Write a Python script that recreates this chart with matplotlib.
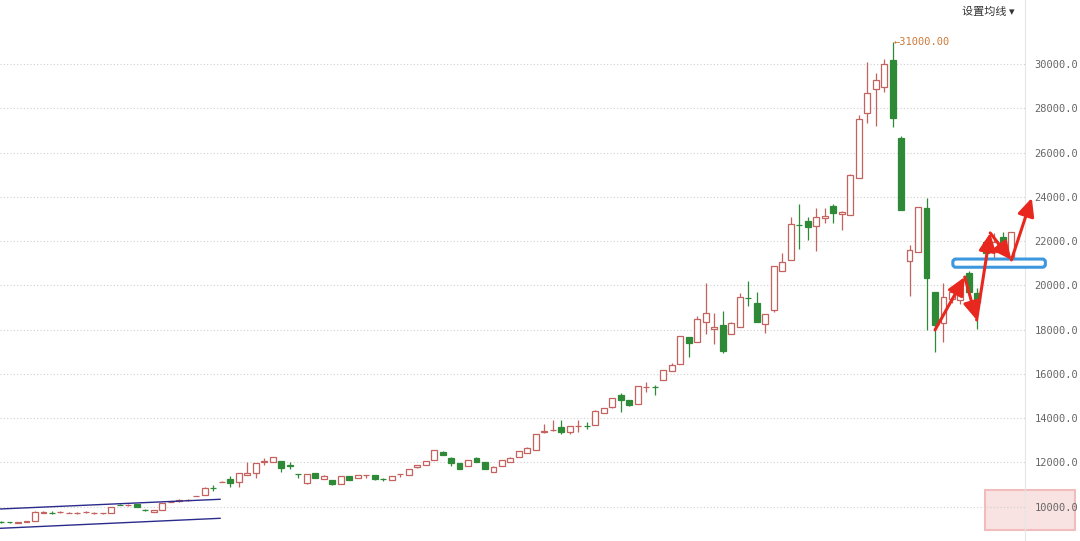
import matplotlib
matplotlib.use('Agg')
import matplotlib.pyplot as plt
from matplotlib.patches import FancyBboxPatch, Rectangle
from matplotlib.ticker import FuncFormatter
import numpy as np

# weekly candles
opens = [9310, 9300, 9270, 9320, 9370, 9740, 9740, 9745, 9725, 9725,
         9775, 9705, 9705, 9710, 10090, 10075, 10110, 9860, 9780, 9850,
         10225, 10275, 10295, 10480, 10530, 10870, 11120, 11260, 11130, 11440,
         11510, 12030, 12010, 12080, 11870, 11480, 11060, 11510, 11260, 11210,
         11020, 11400, 11290, 11425, 11430, 11245, 11210, 11465, 11430, 11780,
         11890, 12110, 12490, 12220, 11960, 11840, 12220, 12010, 11590, 11840,
         12040, 12260, 12440, 12560, 13395, 13465, 13590, 13370, 13645, 13655,
         13690, 14250, 14490, 15050, 14820, 14640, 15410, 15430, 15730, 16150,
         16440, 17650, 17460, 18360, 18010, 18190, 17800, 18140, 19450, 19190,
         18260, 18890, 20650, 21150, 22735, 22890, 22680, 23030, 23590, 23220,
         23180, 24840, 27800, 28860, 28980, 30180, 26670, 21100, 21520, 23480,
         19720, 18290, 19400, 19340, 20550, 19670, 21970, 21520, 22170, 21220]
highs = [9340, 9330, 9310, 9350, 9800, 9800, 9790, 9800, 9750, 9770,
         9820, 9750, 9740, 9990, 10110, 10120, 10120, 9920, 9870, 10190,
         10240, 10330, 10350, 10500, 10880, 10990, 11150, 11390, 11520, 12040,
         11970, 12200, 12240, 12090, 12000, 11480, 11480, 11530, 11420, 11220,
         11380, 11410, 11440, 11440, 11440, 11300, 11410, 11480, 11700, 11900,
         12090, 12570, 12500, 12230, 11970, 12120, 12260, 12020, 11820, 12120,
         12230, 12530, 12680, 13280, 13730, 13900, 13900, 13660, 13900, 13850,
         14350, 14460, 14910, 15150, 14830, 15450, 15650, 15500, 16190, 16510,
         17720, 17660, 18620, 20120, 18770, 18840, 18330, 19670, 20210, 19700,
         18720, 20890, 21480, 23080, 23680, 23080, 23480, 23480, 23680, 23340,
         25050, 27700, 30100, 29580, 30230, 31000, 26750, 21820, 23560, 23930,
         19720, 20090, 19900, 20170, 20650, 19870, 21990, 22350, 22430, 22430]
lows = [9270, 9280, 9250, 9310, 9360, 9700, 9690, 9700, 9710, 9690,
        9740, 9670, 9690, 9700, 10070, 10040, 9980, 9800, 9770, 9840,
        10210, 10230, 10250, 10470, 10520, 10700, 11110, 10910, 10910, 11420,
        11300, 11900, 12000, 11590, 11700, 11290, 11050, 11300, 11250, 11000,
        11010, 11200, 11280, 11300, 11230, 11150, 11200, 11350, 11420, 11770,
        11880, 12100, 12330, 11840, 11700, 11830, 12030, 11700, 11580, 11830,
        12030, 12250, 12430, 12550, 13320, 13420, 13300, 13290, 13400, 13500,
        13680, 14240, 14480, 14300, 14550, 14630, 15200, 15050, 15720, 16140,
        16430, 16780, 17440, 17800, 17350, 16930, 17790, 18130, 19070, 18360,
        17840, 18810, 20640, 21140, 21630, 22050, 21550, 22800, 22800, 22500,
        23170, 24830, 27320, 27200, 28750, 27170, 23410, 19520, 21510, 17990,
        17000, 17460, 19200, 19160, 19650, 18020, 21470, 21220, 21600, 21070]
closes = [9295, 9290, 9300, 9335, 9780, 9755, 9725, 9755, 9740, 9735,
          9785, 9715, 9715, 9980, 10075, 10090, 9985, 9845, 9850, 10180,
          10235, 10285, 10305, 10495, 10870, 10855, 11140, 11080, 11510, 11540,
          11960, 12050, 12230, 11770, 11855, 11465, 11470, 11320, 11400, 11020,
          11370, 11210, 11430, 11435, 11240, 11235, 11400, 11475, 11690, 11890,
          12080, 12560, 12340, 11960, 11700, 12110, 12040, 11710, 11810, 12110,
          12220, 12520, 12670, 13270, 13405, 13475, 13400, 13650, 13655, 13645,
          14340, 14450, 14900, 14820, 14600, 15440, 15430, 15410, 16180, 16400,
          17710, 17410, 18470, 18770, 18100, 17040, 18320, 19490, 19430, 18360,
          18710, 20880, 21040, 22760, 22725, 22650, 23100, 23150, 23260, 23330,
          24990, 27500, 28700, 29280, 30000, 27550, 23410, 21600, 23560, 20320,
          18210, 19490, 19700, 19870, 19720, 19270, 21480, 21970, 21600, 22430]

# hand drawn channel at the start (candle index, price)
chan_x = [-0.12, 25.8]
chan_upper = [9900, 10338]
chan_lower = [9027, 9479]

# red hand drawn arrows (candle index, price)
arrow_path = [(110.0, 17985), (113.5, 20380), (114.9, 18440),
              (116.5, 22370), (119.0, 21150), (121.4, 23950)]

# blue box: left index, low price, width in candles, height in price
box = (112.1, 20820, 10.9, 370)

yticks = list(range(10000, 30001, 2000))

UP = '#c4625f'
DOWN = '#2f8a38'

o = np.array(opens); h = np.array(highs); l = np.array(lows); c = np.array(closes)
x = np.arange(len(o))
up = c >= o
edge = np.where(up, UP, DOWN)
fill = np.where(up, 'white', DOWN)

fig = plt.figure(figsize=(10.8, 5.41), dpi=100)
fig.patch.set_facecolor('white')
ax = fig.add_axes([0, 0, 1025 / 1080, 1])
ax.patch.set_visible(False)

ax.vlines(x, l, h, colors=edge, lw=0.9, zorder=2)
ax.bar(x, np.abs(c - o), bottom=np.minimum(o, c), width=0.7,
       color=fill, edgecolor=edge, linewidth=0.9, zorder=3)

ax.plot(chan_x, chan_upper, color='#2b2b8c', lw=1.0, zorder=3)
ax.plot(chan_x, chan_lower, color='#2b2b8c', lw=1.0, zorder=3)

ax.set_xlim(-0.12, 120.6)
ax.set_ylim(8454, 32891)
ax.set_xticks([])
ax.set_yticks(yticks)
ax.yaxis.tick_right()
ax.yaxis.set_major_formatter(FuncFormatter(lambda v, p: f"{v:.1f}"))
ax.tick_params(axis='y', length=0, pad=7, labelsize=7.5, labelcolor='#666666')
for t in ax.get_yticklabels():
    t.set_family('DejaVu Sans Mono')
ax.grid(axis='y', color='#cfcfcf', linestyle=(0, (1, 2)), lw=0.8)
ax.set_axisbelow(True)
for s in ['top', 'left', 'bottom']:
    ax.spines[s].set_visible(False)
ax.spines['right'].set_color('#e6e6e6')

# max marker
imax = int(np.argmax(h))
ax.text(imax + 0.1, h[imax], f"\u2190{h[imax]:.2f}", color='#cc7a3a', fontsize=7.5,
        family='DejaVu Sans Mono', ha='left', va='center')

bx = FancyBboxPatch((box[0], box[1]), box[2], box[3],
                    boxstyle='round,pad=0,rounding_size=0.35', mutation_aspect=383,
                    ec='#3d97dd', fc='white', lw=2.2, zorder=4, clip_on=False)
ax.add_patch(bx)

for p0, p1 in zip(arrow_path[:-1], arrow_path[1:]):
    ax.annotate('', xy=p1, xytext=p0, annotation_clip=False, zorder=5,
                arrowprops=dict(arrowstyle='-|>,head_length=0.6,head_width=0.28',
                                color='#e8281e', lw=2.2, mutation_scale=18,
                                shrinkA=0, shrinkB=0))

fig.text(1015 / 1080, 1 - 12 / 541, '设置均线 ▾', ha='right', va='center', fontsize=8,
         family=['Noto Sans CJK SC', 'DejaVu Sans'], color='#333333')

# faint watermark block bottom right
wm = Rectangle((985 / 1080, 11 / 541), 90 / 1080, 40 / 541, transform=fig.transFigure,
               fc='#f9e2e2', ec='#f0bcbc', lw=1.5, zorder=-1)
fig.add_artist(wm)

fig.savefig('out.png', dpi=100, facecolor='white')
